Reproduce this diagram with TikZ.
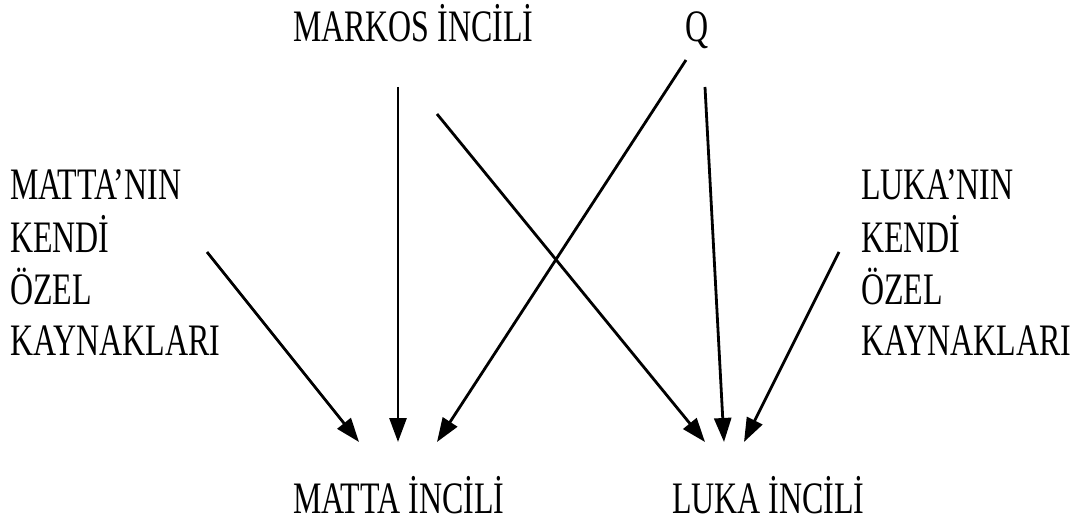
\documentclass[tikz,border=0pt]{standalone}
\usepackage{fontspec}
\usepackage{graphicx}
\setmainfont{Liberation Serif}
\usetikzlibrary{arrows.meta}
\newcommand{\narrow}[1]{\scalebox{0.71}[1]{#1}}
\newcommand{\narrowlines}[1]{\scalebox{0.71}[1]{\begin{tabular}[t]{@{}l@{}}#1\end{tabular}}}
\begin{document}
\begin{tikzpicture}[x=1pt,y=-1pt,inner sep=0pt,outer sep=0pt,line width=2.8pt,
gospel/.style={font=\fontsize{45}{51}\selectfont},
arr/.style={-{Triangle[length=24pt,width=17pt]}}]
\useasboundingbox (0,0) rectangle (1082,521);

\draw (293,42) node[gospel,anchor=base west] (markos) {\narrow{MARKOS İNCİLİ}};
\draw (685,42) node[gospel,anchor=base west] (q) {\narrow{Q}};
\draw (10,200) node[gospel,anchor=base west] (mattaown) {\narrowlines{MATTA’NIN\\KENDİ\\ÖZEL\\KAYNAKLARI}};
\draw (861,200) node[gospel,anchor=base west] (lukaown) {\narrowlines{LUKA’NIN\\KENDİ\\ÖZEL\\KAYNAKLARI}};
\draw (293,513) node[gospel,anchor=base west] (matta) {\narrow{MATTA İNCİLİ}};
\draw (672,513) node[gospel,anchor=base west] (luka) {\narrow{LUKA İNCİLİ}};

\draw[arr] ([shift={(197,52)}]mattaown.base west) -- ([shift={(66,-71)}]matta.base west);
\draw[arr] ([shift={(105,45)}]markos.base west) -- ([shift={(105,-71)}]matta.base west);
\draw[arr] ([shift={(1,18)}]q.base west) -- ([shift={(144,-71)}]matta.base west);
\draw[arr] ([shift={(144,72)}]markos.base west) -- ([shift={(33,-71)}]luka.base west);
\draw[arr] ([shift={(20,45)}]q.base west) -- ([shift={(52,-71)}]luka.base west);
\draw[arr] ([shift={(-22,52)}]lukaown.base west) -- ([shift={(72,-71)}]luka.base west);
\end{tikzpicture}
\end{document}
